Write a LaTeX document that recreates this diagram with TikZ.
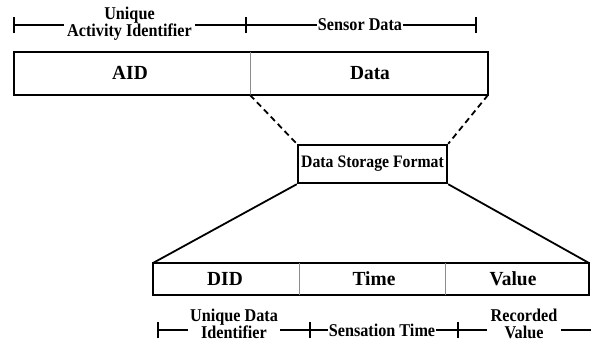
\documentclass[tikz,border=0pt]{standalone}
\usepackage{fontspec}
\setmainfont{Liberation Serif}
\newfontfamily\tallfont[FakeStretch=0.9]{Liberation Serif}
\newfontfamily\boxfont[FakeStretch=0.97]{Liberation Serif}
\begin{document}
\begin{tikzpicture}[x=1pt,y=-1pt,
  box/.style={draw=black,line width=2.4pt},
  divider/.style={draw=black!45,line width=0.6pt},
  boxlabel/.style={font=\boxfont\fontsize{20}{22}\selectfont\bfseries,inner sep=0pt},
  dimlabel/.style={font=\tallfont\fontsize{18}{17}\selectfont\bfseries,fill=white,inner xsep=1pt,inner ysep=0pt,align=center},
  dimline/.style={line width=1.4pt},
  tick/.style={line width=2pt},
  zoomline/.style={line width=1.8pt}]
\useasboundingbox (0,0) rectangle (591,348);
% top record
\coordinate (ta) at (14,52);
\coordinate (tb) at (488,95);
\coordinate (tdivtop) at (250,52);
\coordinate (tdivbot) at (250,95);
\draw[box] (ta) rectangle (tb);
\draw[divider] (tdivtop) -- (tdivbot);
\node[boxlabel] (aid) at (130,73) {AID};
\node[boxlabel] (data) at (370,73) {Data};
% top dimension line
\coordinate (d1) at (14,25);
\coordinate (d2) at (245.5,25);
\coordinate (d3) at (476,25);
\draw[dimline] (d1) -- (d3);
\foreach \c in {d1,d2,d3} \draw[tick] ([yshift=-8pt]\c) -- ([yshift=8pt]\c);
\node[dimlabel,inner xsep=3pt] (uai) at (129.5,24) {Unique\\Activity Identifier};
\node[dimlabel] (sd) at (360,25) {Sensor Data};
% middle box
\node[box,minimum width=149pt,minimum height=38pt,inner sep=0pt,
      font=\tallfont\fontsize{17.5}{17}\selectfont\bfseries] (dsf) at (372.5,164) {Data Storage Format};
\draw[zoomline,dashed,dash pattern=on 6pt off 4pt] (tdivbot) -- (dsf.north west);
\draw[zoomline,dashed,dash pattern=on 6pt off 4pt] (tb) -- (dsf.north east);
% bottom record
\coordinate (ba) at (153,263);
\coordinate (bb) at (589,295);
\coordinate (bbr) at (589,263);
\draw[box] (ba) rectangle (bb);
\draw[divider] (299,263) -- (299,295);
\draw[divider] (445,263) -- (445,295);
\node[boxlabel] (did) at (225,279) {DID};
\node[boxlabel] (time) at (374,279) {Time};
\node[boxlabel] (val) at (513,279) {Value};
\draw[zoomline] (dsf.south west) -- (ba);
\draw[zoomline] (dsf.south east) -- (bbr);
% bottom dimension line
\coordinate (e1) at (158,330);
\coordinate (e2) at (310,330);
\coordinate (e3) at (458,330);
\coordinate (e4) at (591,330);
\draw[dimline] (e1) -- (e4);
\foreach \c in {e1,e2,e3} \draw[tick] ([yshift=-8pt]\c) -- ([yshift=8pt]\c);
\node[dimlabel,inner xsep=2pt] (udi) at (234,324) {Unique Data\\Identifier};
\node[dimlabel] (st) at (382,330) {Sensation Time};
\node[dimlabel,inner xsep=4pt] (rv) at (524,324) {Recorded\\Value};
\end{tikzpicture}
\end{document}
